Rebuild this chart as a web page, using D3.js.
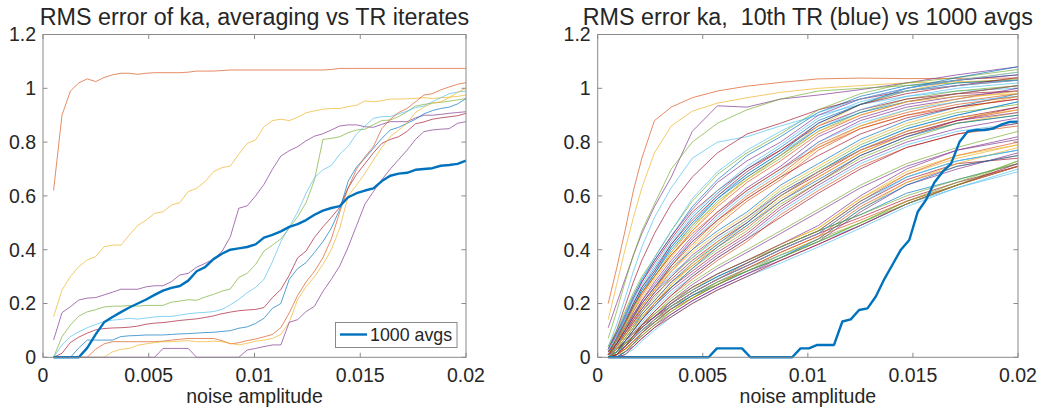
<!DOCTYPE html>
<html><head><meta charset="utf-8">
<script src="https://cdn.jsdelivr.net/npm/d3@7/dist/d3.min.js"></script>
<style>body{margin:0;background:#fff}svg{display:block}text{font-family:"Liberation Sans",Arial,Helvetica,sans-serif;fill:#262626}</style>
</head><body>
<svg id="c" width="1046" height="414"></svg>
<script>
// ---------- data ----------
const noiseAmp = [0.0005,0.000898,0.001296,0.001694,0.002092,0.00249,0.002888,0.003286,0.003684,0.004082,
0.00448,0.004878,0.005276,0.005673,0.006071,0.006469,0.006867,0.007265,0.007663,0.008061,
0.008459,0.008857,0.009255,0.009653,0.010051,0.010449,0.010847,0.011245,0.011643,0.012041,
0.012439,0.012837,0.013235,0.013633,0.014031,0.014429,0.014827,0.015224,0.015622,0.01602,
0.016418,0.016816,0.017214,0.017612,0.01801,0.018408,0.018806,0.019204,0.019602,0.02];

const trIterates = [
[0.62,0.90,0.99,1.02,1.035,1.025,1.04,1.05,1.056,1.056, 1.052,1.056,1.058,1.058,1.058,1.058,1.06,1.064,1.064,1.064, 1.066,1.068,1.068,1.068,1.068,1.068,1.068,1.068,1.068,1.068, 1.068,1.068,1.068,1.07,1.074,1.074,1.074,1.074,1.074,1.074, 1.074,1.074,1.074,1.074,1.074,1.074,1.074,1.074,1.074,1.074],
[0.151,0.25,0.30,0.337,0.362,0.374,0.411,0.417,0.417,0.455, 0.49,0.51,0.535,0.541,0.566,0.575,0.616,0.628,0.653,0.69, 0.705,0.711,0.755,0.795,0.808,0.857,0.88,0.885,0.88,0.892, 0.909,0.916,0.922,0.925,0.925,0.932,0.937,0.953,0.95,0.954, 0.96,0.96,0.961,0.963,0.965,0.962,0.965,0.967,0.97,0.975],
[0.064,0.166,0.188,0.213,0.22,0.222,0.232,0.242,0.253,0.253, 0.253,0.262,0.266,0.266,0.281,0.306,0.312,0.335,0.349,0.365, 0.393,0.448,0.554,0.563,0.600,0.643,0.699,0.748,0.768,0.783, 0.805,0.822,0.831,0.845,0.86,0.864,0.864,0.857,0.855,0.866, 0.876,0.876,0.876,0.89,0.90,0.90,0.903,0.907,0.91,0.913],
[0,0.077,0.12,0.153,0.169,0.177,0.187,0.19,0.19,0.193, 0.19,0.193,0.193,0.193,0.205,0.209,0.214,0.212,0.224,0.234, 0.246,0.254,0.297,0.312,0.345,0.395,0.417,0.44,0.48,0.523, 0.575,0.66,0.81,0.814,0.82,0.835,0.845,0.848,0.865,0.88, 0.882,0.895,0.913,0.934,0.94,0.945,0.948,0.952,0.957,0.962],
[0,0.046,0.077,0.095,0.11,0.122,0.133,0.138,0.141,0.145, 0.142,0.146,0.15,0.152,0.152,0.157,0.162,0.165,0.167,0.17, 0.178,0.195,0.215,0.24,0.26,0.29,0.355,0.43,0.485,0.54, 0.61,0.668,0.697,0.713,0.755,0.785,0.83,0.86,0.888,0.895, 0.895,0.905,0.915,0.928,0.934,0.95,0.965,0.98,0.986,0.99],
[0,0.015,0.055,0.075,0.09,0.102,0.107,0.109,0.11,0.112, 0.116,0.123,0.127,0.129,0.133,0.137,0.14,0.143,0.148,0.154, 0.162,0.168,0.173,0.176,0.178,0.185,0.222,0.252,0.305,0.37, 0.395,0.446,0.485,0.52,0.558,0.63,0.68,0.72,0.76,0.795, 0.81,0.82,0.84,0.868,0.875,0.885,0.89,0.894,0.898,0.907],
[0,0,0,0.035,0.064,0.064,0.064,0.064,0.077,0.08, 0.081,0.083,0.083,0.083,0.085,0.087,0.088,0.09,0.092,0.093, 0.096,0.099,0.108,0.113,0.126,0.145,0.182,0.2,0.29,0.33, 0.352,0.39,0.43,0.48,0.55,0.655,0.708,0.74,0.777,0.814, 0.845,0.855,0.87,0.885,0.905,0.917,0.925,0.93,0.942,0.962],
[0,0,0,0,0,0.03,0.05,0.058,0.058,0.058, 0.058,0.058,0.058,0.06,0.064,0.067,0.07,0.07,0.07,0.07, 0.062,0.05,0.054,0.062,0.068,0.076,0.085,0.11,0.165,0.23, 0.28,0.32,0.37,0.44,0.54,0.63,0.70,0.746,0.783,0.85, 0.885,0.91,0.925,0.95,0.975,0.98,0.994,1.005,1.015,1.021],
[0,0,0,0,0,0,0,0.02,0.03,0.033, 0.045,0.05,0.055,0.058,0.058,0.06,0.062,0.058,0.058,0.06, 0.058,0.052,0.046,0.052,0.06,0.064,0.07,0.085,0.13,0.215, 0.262,0.30,0.345,0.40,0.48,0.60,0.64,0.684,0.733,0.78, 0.82,0.845,0.87,0.91,0.93,0.945,0.95,0.965,0.985,1.0],
[0,0,0,0,0,0,0,0,0,0, 0,0,0,0.033,0.033,0.033,0.033,0,0,0, 0,0,0,0.027,0.033,0.04,0.046,0.046,0.13,0.14, 0.17,0.19,0.245,0.29,0.34,0.41,0.49,0.57,0.616,0.66, 0.70,0.735,0.77,0.81,0.839,0.845,0.848,0.85,0.87,0.876]
];

const avg1000 = [0,0,0,0,0.035,0.085,0.13,0.15,0.168,0.185, 0.20,0.215,0.232,0.248,0.258,0.265,0.285,0.32,0.335,0.365,
0.385,0.40,0.405,0.41,0.42,0.445,0.455,0.468,0.485,0.495, 0.51,0.53,0.545,0.555,0.562,0.595,0.61,0.62,0.628,0.655,
0.675,0.683,0.686,0.697,0.70,0.703,0.712,0.715,0.719,0.731];

const tr10 = [0,0,0,0,0,0,0,0,0,0, 0,0,0,0.033,0.033,0.033,0.033,0,0,0,
0,0,0,0.033,0.033,0.046,0.046,0.046,0.133,0.141, 0.176,0.182,0.226,0.29,0.345,0.40,0.436,0.54,0.585,0.65,
0.69,0.72,0.80,0.84,0.845,0.845,0.85,0.865,0.875,0.876];

const noiseAmpCoarse = [0.0005,0.0009,0.0013,0.0017,0.0021,0.0027,0.0035,0.0045,0.0057,0.0071,0.0087,0.0105,0.0125,0.0147,0.0171,0.02];

const avgRuns = [
[0.03,0.09,0.16,0.23,0.29,0.36,0.45,0.56,0.66,0.75,0.82,0.91,0.97,1.01,1.03,1.05],
[0.20,0.33,0.47,0.62,0.74,0.88,0.93,0.965,0.99,1.008,1.022,1.035,1.038,1.036,1.037,1.038],
[0.14,0.27,0.40,0.52,0.63,0.76,0.86,0.915,0.945,0.965,0.985,1.0,1.01,1.02,1.025,1.03],
[0.11,0.2,0.29,0.38,0.46,0.56,0.67,0.84,0.935,0.93,0.96,0.975,0.995,1.02,1.05,1.08],
[0.07,0.17,0.28,0.38,0.47,0.57,0.70,0.80,0.87,0.92,0.96,0.99,1.0,1.01,1.02,1.035],
[0.04,0.12,0.22,0.32,0.41,0.52,0.63,0.74,0.80,0.82,0.86,0.90,0.94,0.97,0.99,1.0],
[0.03,0.1,0.19,0.28,0.36,0.46,0.57,0.67,0.76,0.83,0.87,0.92,0.96,0.99,1.01,1.03],
[0,0.02,0.05,0.08,0.11,0.15,0.2,0.25,0.3,0.35,0.41,0.47,0.58,0.67,0.73,0.77],
[0.0,0.04,0.08,0.13,0.18,0.24,0.32,0.40,0.49,0.58,0.66,0.77,0.85,0.90,0.93,0.96],
[0.02,0.05,0.1,0.15,0.19,0.25,0.32,0.39,0.46,0.53,0.63,0.71,0.80,0.87,0.92,0.97],
[0,0,0.02,0.05,0.08,0.12,0.16,0.21,0.26,0.31,0.36,0.42,0.49,0.57,0.64,0.71],
[0.02,0.06,0.12,0.18,0.24,0.3,0.39,0.48,0.58,0.66,0.74,0.84,0.91,0.96,0.99,1.01],
[0.0,0.02,0.05,0.09,0.13,0.18,0.24,0.3,0.37,0.44,0.54,0.63,0.72,0.79,0.84,0.87],
[0,0.01,0.04,0.07,0.1,0.14,0.19,0.24,0.29,0.34,0.4,0.46,0.57,0.66,0.72,0.74],
[0.01,0.07,0.14,0.2,0.26,0.33,0.42,0.52,0.61,0.7,0.78,0.88,0.94,0.99,1.02,1.03],
[0.01,0.04,0.08,0.12,0.16,0.21,0.28,0.34,0.41,0.48,0.58,0.67,0.76,0.83,0.88,0.92],
[0,0.03,0.06,0.09,0.12,0.16,0.21,0.26,0.31,0.36,0.42,0.48,0.59,0.68,0.74,0.79],
[0.0,0.05,0.1,0.15,0.21,0.27,0.35,0.44,0.53,0.62,0.70,0.80,0.88,0.93,0.96,1.0],
[0.0,0.03,0.07,0.11,0.15,0.2,0.26,0.33,0.4,0.47,0.57,0.65,0.74,0.81,0.87,0.9],
[0,0,0.01,0.03,0.06,0.1,0.15,0.2,0.25,0.3,0.35,0.41,0.48,0.56,0.63,0.70],
[0.03,0.08,0.15,0.22,0.28,0.35,0.44,0.54,0.62,0.70,0.77,0.86,0.92,0.96,0.98,0.99],
[0.02,0.06,0.11,0.16,0.2,0.26,0.33,0.4,0.47,0.54,0.64,0.72,0.81,0.88,0.93,0.98],
[0,0.02,0.04,0.07,0.1,0.14,0.18,0.23,0.28,0.33,0.39,0.45,0.56,0.65,0.71,0.75],
[0.01,0.05,0.11,0.17,0.22,0.29,0.37,0.47,0.57,0.67,0.75,0.86,0.94,0.99,1.03,1.06],
[0.0,0.02,0.06,0.1,0.14,0.19,0.25,0.31,0.38,0.45,0.55,0.64,0.73,0.8,0.85,0.89],
[0,0.01,0.03,0.06,0.09,0.13,0.17,0.22,0.27,0.32,0.38,0.44,0.5,0.58,0.64,0.71],
[0.02,0.07,0.13,0.19,0.25,0.32,0.41,0.5,0.6,0.68,0.76,0.85,0.92,0.97,1.0,1.02],
[0.01,0.04,0.09,0.13,0.17,0.23,0.29,0.36,0.43,0.5,0.6,0.68,0.77,0.84,0.89,0.93],
[0,0.02,0.05,0.08,0.11,0.15,0.2,0.25,0.3,0.35,0.41,0.47,0.53,0.61,0.66,0.72],
[0.0,0.04,0.09,0.14,0.19,0.25,0.34,0.42,0.51,0.6,0.68,0.79,0.86,0.91,0.95,0.98],
[0.0,0.03,0.06,0.1,0.15,0.2,0.27,0.34,0.42,0.49,0.59,0.67,0.76,0.83,0.87,0.91],
[0,0,0.02,0.04,0.07,0.11,0.16,0.21,0.26,0.31,0.37,0.43,0.54,0.64,0.70,0.76],
[0.04,0.1,0.17,0.24,0.3,0.37,0.47,0.58,0.68,0.76,0.83,0.92,0.98,1.02,1.04,1.07],
[0.01,0.05,0.1,0.14,0.18,0.24,0.31,0.37,0.44,0.51,0.61,0.69,0.78,0.85,0.9,0.95],
[0,0.03,0.05,0.08,0.11,0.15,0.19,0.24,0.29,0.34,0.4,0.46,0.52,0.59,0.65,0.71],
[0.01,0.06,0.12,0.19,0.24,0.31,0.4,0.49,0.59,0.67,0.75,0.85,0.91,0.95,0.98,1.01],
[0.0,0.01,0.05,0.08,0.12,0.17,0.23,0.29,0.36,0.43,0.53,0.62,0.71,0.78,0.83,0.86],
[0,0.01,0.03,0.05,0.08,0.12,0.17,0.22,0.28,0.33,0.38,0.44,0.55,0.65,0.72,0.78],
[0.0,0.05,0.1,0.16,0.21,0.28,0.36,0.45,0.54,0.63,0.71,0.82,0.89,0.94,0.97,0.99],
[0.01,0.04,0.08,0.12,0.17,0.22,0.3,0.37,0.45,0.52,0.62,0.70,0.79,0.86,0.91,0.94],
[0,0.02,0.04,0.07,0.1,0.13,0.18,0.23,0.28,0.33,0.38,0.43,0.49,0.57,0.63,0.69],
[0.02,0.07,0.13,0.2,0.26,0.32,0.42,0.51,0.6,0.69,0.77,0.87,0.94,0.98,1.01,1.04],
[0.0,0.03,0.07,0.11,0.16,0.21,0.28,0.35,0.42,0.5,0.6,0.69,0.78,0.85,0.9,0.95],
[0,0.01,0.03,0.06,0.09,0.14,0.19,0.24,0.29,0.35,0.41,0.47,0.58,0.68,0.75,0.80],
[0.0,0.03,0.09,0.14,0.19,0.25,0.33,0.41,0.5,0.59,0.67,0.78,0.86,0.92,0.96,0.99],
[0.02,0.05,0.09,0.14,0.18,0.24,0.3,0.38,0.45,0.52,0.61,0.69,0.77,0.83,0.88,0.91],
[0,0.02,0.05,0.07,0.1,0.14,0.19,0.23,0.28,0.32,0.37,0.43,0.5,0.58,0.65,0.73],
[0.03,0.08,0.14,0.21,0.27,0.34,0.43,0.53,0.62,0.71,0.79,0.89,0.95,0.99,1.01,1.03],
[0.0,0.02,0.06,0.1,0.14,0.2,0.26,0.32,0.39,0.46,0.56,0.65,0.75,0.82,0.88,0.93],
[0,0,0.02,0.05,0.09,0.13,0.18,0.23,0.27,0.32,0.37,0.44,0.55,0.64,0.71,0.75],
[0.01,0.05,0.11,0.17,0.23,0.3,0.38,0.47,0.56,0.65,0.73,0.83,0.9,0.95,0.98,1.01],
[0,0.01,0.04,0.08,0.11,0.15,0.2,0.25,0.31,0.36,0.42,0.48,0.59,0.69,0.75,0.79],
[0.03,0.09,0.15,0.22,0.28,0.36,0.45,0.55,0.65,0.73,0.8,0.9,0.96,1.0,1.03,1.05],
[0,0.02,0.05,0.08,0.12,0.16,0.21,0.26,0.31,0.36,0.41,0.47,0.53,0.6,0.66,0.72],
[0.0,0.04,0.1,0.15,0.2,0.26,0.35,0.43,0.52,0.61,0.69,0.8,0.87,0.92,0.95,0.97],
[0,0,0.01,0.04,0.07,0.11,0.15,0.2,0.25,0.3,0.36,0.42,0.49,0.57,0.64,0.72],
[0.02,0.06,0.13,0.19,0.25,0.31,0.41,0.5,0.59,0.68,0.76,0.87,0.94,1.0,1.04,1.08],
[0,0.01,0.03,0.06,0.09,0.13,0.18,0.22,0.27,0.33,0.39,0.45,0.51,0.58,0.64,0.71],
[0.01,0.06,0.12,0.18,0.24,0.3,0.39,0.49,0.57,0.66,0.75,0.84,0.9,0.95,0.97,0.98],
[0,0.03,0.06,0.09,0.12,0.15,0.2,0.26,0.31,0.36,0.42,0.49,0.6,0.7,0.77,0.81],
[0,0.01,0.02,0.05,0.08,0.12,0.17,0.22,0.27,0.32,0.37,0.43,0.5,0.57,0.64,0.73],
[0,0.02,0.04,0.07,0.1,0.14,0.19,0.24,0.29,0.34,0.4,0.46,0.57,0.67,0.73,0.77],
[0.01,0.05,0.1,0.15,0.2,0.26,0.34,0.43,0.51,0.59,0.67,0.75,0.83,0.89,0.93,0.96],
[0,0.02,0.06,0.1,0.14,0.19,0.26,0.33,0.41,0.49,0.58,0.66,0.75,0.82,0.87,0.9],
[0.02,0.07,0.13,0.19,0.24,0.3,0.38,0.46,0.54,0.62,0.7,0.78,0.85,0.9,0.94,0.97],
[0,0.03,0.07,0.11,0.15,0.2,0.27,0.35,0.43,0.51,0.6,0.69,0.77,0.84,0.89,0.92],
[0,0.01,0.04,0.07,0.11,0.15,0.21,0.27,0.33,0.39,0.46,0.54,0.63,0.71,0.77,0.82],
[0,0.02,0.05,0.08,0.12,0.16,0.22,0.28,0.34,0.4,0.47,0.55,0.64,0.72,0.78,0.84],
[0.03,0.08,0.15,0.22,0.29,0.37,0.47,0.59,0.69,0.77,0.84,0.91,0.96,1.0,1.03,1.06],
[0,0.01,0.04,0.08,0.12,0.17,0.23,0.3,0.37,0.44,0.52,0.61,0.7,0.78,0.83,0.87]
];

const xTicks = [0,0.005,0.01,0.015,0.02];
const xTickLabels = ["0","0.005","0.01","0.015","0.02"];
const yTicks = [0,0.2,0.4,0.6,0.8,1,1.2];
const yTickLabels = ["0","0.2","0.4","0.6","0.8","1","1.2"];
const titles = ["RMS error of ka, averaging vs TR iterates","RMS error ka,  10th TR (blue) vs 1000 avgs"];
const xLabel = "noise amplitude";
const legendLabel = "1000 avgs";

// ---------- drawing ----------
const palette = ["#0072BD","#D95319","#EDB120","#7E2F8E","#77AC30","#4DBEEE","#A2142F"];
const svg = d3.select("#c");
const yTop = 34.5, yBot = 357.3;
const panels = [{x0:43, x1:466}, {x0:597.7, x1:1018}];

function makeAxes(p, title){
  const x = d3.scaleLinear().domain([0,0.02]).range([p.x0,p.x1]);
  const y = d3.scaleLinear().domain([0,1.2]).range([yBot,yTop]);
  const g = svg.append("g");
  const tk = 4.5;
  xTicks.forEach((t,i)=>{
    g.append("line").attr("x1",x(t)).attr("x2",x(t)).attr("y1",yBot).attr("y2",yBot-tk).attr("stroke","#8a8a8a");
    g.append("line").attr("x1",x(t)).attr("x2",x(t)).attr("y1",yTop).attr("y2",yTop+tk).attr("stroke","#8a8a8a");
    g.append("text").attr("x",x(t)).attr("y",yBot+25).attr("text-anchor","middle").attr("font-size",19.5).text(xTickLabels[i]);
  });
  yTicks.forEach((t,i)=>{
    g.append("line").attr("x1",p.x0).attr("x2",p.x0+tk).attr("y1",y(t)).attr("y2",y(t)).attr("stroke","#8a8a8a");
    g.append("line").attr("x1",p.x1).attr("x2",p.x1-tk).attr("y1",y(t)).attr("y2",y(t)).attr("stroke","#8a8a8a");
    g.append("text").attr("x",p.x0-7).attr("y",y(t)).attr("dy","0.35em").attr("text-anchor","end").attr("font-size",19.5).text(yTickLabels[i]);
  });
  g.append("text").attr("x",(p.x0+p.x1)/2).attr("y",403).attr("text-anchor","middle").attr("font-size",19.5).text(xLabel);
  g.append("text").attr("x",(p.x0+p.x1)/2).attr("y",25).attr("text-anchor","middle").attr("font-size",23.3).style("white-space","pre").text(title);
  return {x,y,g};
}

function drawBox(p){
  svg.append("rect").attr("x",p.x0).attr("y",yTop).attr("width",p.x1-p.x0).attr("height",yBot-yTop)
    .attr("fill","none").attr("stroke","#8a8a8a").attr("stroke-width",1);
}

// left panel
const L = makeAxes(panels[0], titles[0]);
const lineL = d3.line().x((d,i)=>L.x(noiseAmp[i])).y(d=>L.y(d));
trIterates.forEach((s,k)=>{
  svg.append("path").attr("d",lineL(s)).attr("fill","none").attr("stroke",palette[(k+1)%7])
    .attr("stroke-width",0.9).attr("stroke-opacity",0.75).attr("stroke-linejoin","round");
});
svg.append("path").attr("d",lineL(avg1000)).attr("fill","none").attr("stroke",palette[0]).attr("stroke-width",2.4).attr("stroke-linejoin","round");
drawBox(panels[0]);
const lg = svg.append("g");
lg.append("rect").attr("x",335.5).attr("y",322.5).attr("width",121.5).attr("height",25).attr("fill","#fff").attr("stroke","#8a8a8a");
lg.append("line").attr("x1",340).attr("x2",367).attr("y1",334.5).attr("y2",334.5).attr("stroke",palette[0]).attr("stroke-width",2.4);
lg.append("text").attr("x",370).attr("y",334.5).attr("dy","0.35em").attr("font-size",17.8).text(legendLabel);

// right panel
const R = makeAxes(panels[1], titles[1]);
const lineR = d3.line().x((d,i)=>R.x(noiseAmpCoarse[i])).y(d=>R.y(d));
avgRuns.forEach((s,k)=>{
  svg.append("path").attr("d",lineR(s)).attr("fill","none").attr("stroke",palette[k%7])
    .attr("stroke-width",0.85).attr("stroke-opacity",0.8).attr("stroke-linejoin","round");
});
const lineR2 = d3.line().x((d,i)=>R.x(noiseAmp[i])).y(d=>R.y(d));
svg.append("path").attr("d",lineR2(tr10)).attr("fill","none").attr("stroke",palette[0]).attr("stroke-width",2.4).attr("stroke-linejoin","round");
drawBox(panels[1]);
</script>
</body></html>
